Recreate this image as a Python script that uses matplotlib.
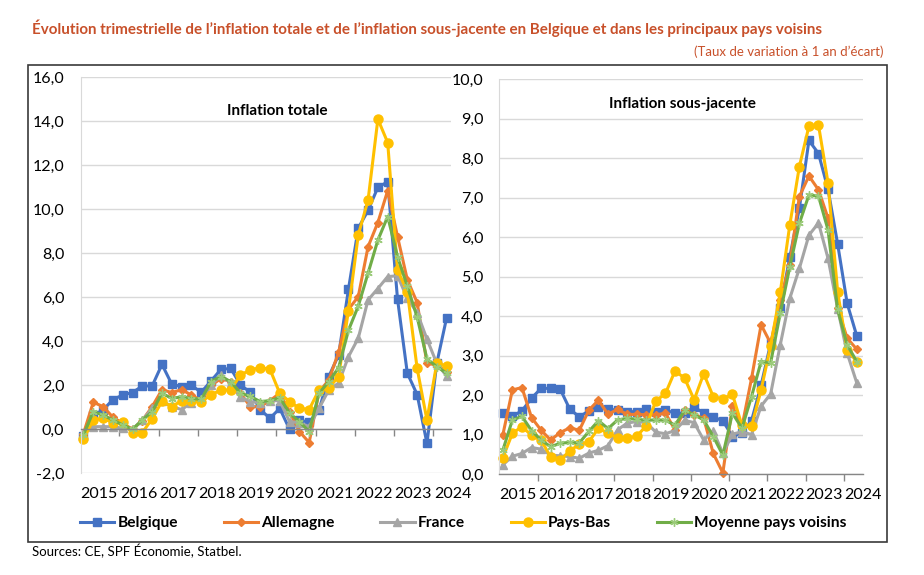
import matplotlib
matplotlib.use("Agg")
import matplotlib.pyplot as plt
from matplotlib.patches import Rectangle
from matplotlib.ticker import FuncFormatter, FixedLocator
import matplotlib.transforms as mtransforms

plt.rcParams['font.family'] = ['Lato', 'DejaVu Sans']

# ---------------- data ----------------
years = ['2015', '2016', '2017', '2018', '2019', '2020', '2021', '2022', '2023', '2024']
series_names = ['Belgique', 'Allemagne', 'France', 'Pays-Bas', 'Moyenne pays voisins']

# Inflation totale (quarterly, 2015Q1 - 2024Q2)
bel_tot = [-0.3, 0.65, 0.88, 1.35, 1.56, 1.67, 1.97, 1.97, 2.95, 2.05, 1.94, 2.0, 1.68, 2.2, 2.72, 2.77,
           2.02, 1.68, 0.9, 0.5, 0.95, 0.0, 0.42, 0.32, 0.88, 2.4, 3.38, 6.36, 9.14, 9.95, 11.0, 11.25,
           5.92, 2.55, 1.58, -0.64, 3.0, 5.06]
deu_tot = [-0.2, 1.23, 1.03, 0.55, 0.27, 0.0, 0.4, 1.03, 1.8, 1.67, 1.8, 1.56, 1.3, 2.0, 2.3, 2.17,
           1.64, 1.03, 1.03, 1.3, 1.64, 0.8, -0.1, -0.6, 1.7, 2.24, 3.5, 5.45, 6.03, 8.3, 9.4, 10.85,
           8.76, 6.8, 5.76, 3.0, 2.92, 2.62]
fra_tot = [-0.2, 0.12, 0.12, 0.12, 0.05, 0.0, 0.42, 0.95, 1.3, 1.03, 0.9, 1.2, 1.4, 2.0, 2.47, 2.1,
           1.45, 1.26, 1.2, 1.3, 1.3, 0.35, 0.3, 0.12, 0.95, 1.79, 2.1, 3.3, 4.14, 5.88, 6.4, 6.94,
           6.98, 5.95, 5.3, 4.1, 3.0, 2.42]
nld_tot = [-0.45, 0.42, 0.5, 0.3, 0.35, -0.18, -0.15, 0.48, 1.27, 1.03, 1.3, 1.3, 1.26, 1.56, 1.79, 1.79,
           2.47, 2.7, 2.8, 2.73, 1.64, 1.26, 0.96, 0.9, 1.79, 1.88, 2.4, 5.4, 8.83, 10.42, 14.1, 13.03,
           7.24, 6.26, 2.77, 0.42, 3.0, 2.88]
avg_tot = [-0.25, 0.8, 0.65, 0.42, 0.2, 0.0, 0.42, 0.8, 1.64, 1.4, 1.48, 1.4, 1.36, 2.17, 2.4, 2.17,
           1.64, 1.5, 1.26, 1.3, 1.44, 0.73, 0.35, -0.1, 1.64, 2.17, 2.8, 4.5, 5.6, 7.1, 8.6, 9.67,
           7.85, 6.5, 5.1, 3.2, 2.85, 2.55]

# Inflation sous-jacente
bel_core = [1.55, 1.47, 1.6, 1.92, 2.17, 2.17, 2.15, 1.64, 1.45, 1.6, 1.7, 1.64, 1.62, 1.58, 1.58, 1.64,
            1.58, 1.62, 1.54, 1.54, 1.7, 1.54, 1.44, 1.35, 0.95, 1.05, 1.35, 2.25, 3.31, 4.2, 5.5, 6.73,
            8.45, 8.12, 7.21, 5.83, 4.32, 3.5]
deu_core = [0.99, 2.13, 2.19, 1.43, 1.11, 0.86, 1.05, 1.17, 1.11, 1.62, 1.87, 1.51, 1.64, 1.51, 1.51, 1.5,
            1.5, 1.54, 1.12, 1.62, 1.5, 1.41, 0.52, 0.03, 1.72, 1.2, 2.42, 3.78, 3.31, 4.41, 5.3, 7.03,
            7.55, 7.2, 6.48, 4.2, 3.44, 3.16]
fra_core = [0.23, 0.45, 0.52, 0.67, 0.63, 0.48, 0.46, 0.44, 0.4, 0.53, 0.6, 0.72, 1.12, 1.29, 1.33, 1.3,
            1.06, 1.02, 1.1, 1.36, 1.3, 0.86, 1.09, 0.52, 1.01, 1.07, 1.0, 1.72, 2.03, 3.27, 4.45, 5.21,
            6.05, 6.36, 5.46, 4.19, 3.06, 2.31]
nld_core = [0.41, 1.03, 1.2, 0.98, 0.86, 0.43, 0.35, 0.59, 0.75, 0.82, 1.16, 1.03, 0.92, 0.9, 0.96, 1.22,
            1.85, 2.04, 2.61, 2.43, 1.88, 2.54, 1.96, 1.9, 2.02, 1.23, 1.21, 2.13, 3.25, 4.6, 6.31, 7.79,
            8.81, 8.84, 7.37, 4.62, 3.14, 2.85]
avg_core = [0.6, 1.37, 1.46, 1.1, 0.86, 0.69, 0.78, 0.8, 0.79, 1.08, 1.35, 1.15, 1.37, 1.41, 1.39, 1.36,
            1.37, 1.36, 1.24, 1.61, 1.5, 1.37, 0.95, 0.48, 1.54, 1.16, 1.96, 2.85, 2.82, 4.07, 5.25, 6.35,
            7.07, 7.04, 6.18, 4.17, 3.27, 2.85]

# ---------------- styles ----------------
styles = [
    dict(color='#4472C4', marker='s', ms=5.5, mfc='#4472C4', mec='#4472C4', mew=1),
    dict(color='#ED7D31', marker='D', ms=4.5, mfc='#ED7D31', mec='#ED7D31', mew=1),
    dict(color='#A5A5A5', marker='^', ms=5.5, mfc='#A5A5A5', mec='#A5A5A5', mew=1),
    dict(color='#FFC000', marker='o', ms=6.5, mfc='#FFC000', mec='#FFC000', mew=1),
    dict(color='#70AD47', marker=(6, 2, 0), ms=6, mfc='#9BCB7A', mec='#9BCB7A', mew=1),
]

W, H = 924, 575
fig = plt.figure(figsize=(W / 100, H / 100), dpi=100)

def px_axes(x0, y0, x1, y1):
    return fig.add_axes([x0 / W, 1 - y1 / H, (x1 - x0) / W, (y1 - y0) / H])

ax1 = px_axes(81, 77.3, 451, 473.3)
ax2 = px_axes(499, 79.3, 862.5, 474)

comma = FuncFormatter(lambda v, p: f"{v:.1f}".replace('.', ','))
xs = list(range(len(bel_tot)))
tick_pos = [4 * k - 1 / 3 for k in range(1, 10)]
lab_pos = [4 * k + 1.6 for k in range(len(years))]

def setup(ax, data, ylim, ystep, xlim, title, tpos, pad):
    lines = []
    for d, st, name in zip(data, styles, series_names):
        ln, = ax.plot(xs, d, lw=2.2, label=name, clip_on=False, **st)
        lines.append(ln)
    ax.set_xlim(*xlim)
    ax.set_ylim(*ylim)
    yt = [ylim[0] + ystep * i for i in range(int(round((ylim[1] - ylim[0]) / ystep)) + 1)]
    ax.set_yticks(yt)
    ax.yaxis.set_major_formatter(comma)
    ax.grid(axis='y', color='#D9D9D9', lw=1)
    ax.set_axisbelow(True)
    for s in ['top', 'right']:
        ax.spines[s].set_visible(False)
    ax.spines['left'].set_color('#D9D9D9')
    ax.spines['bottom'].set_position(('data', 0))
    ax.spines['bottom'].set_color('#868686')
    ax.spines['bottom'].set_linewidth(1)
    ax.xaxis.set_major_locator(FixedLocator(tick_pos))
    ax.tick_params(axis='x', direction='out', length=5, width=1, color='#868686', labelbottom=False)
    ax.tick_params(axis='y', length=0, pad=pad, labelsize=11.5, labelcolor='black')
    trans = mtransforms.blended_transform_factory(ax.transData, ax.transAxes)
    for x, y in zip(lab_pos, years):
        ax.annotate(y, xy=(x, 0), xycoords=trans, xytext=(0, -15), textcoords='offset points',
                    ha='center', va='center', fontsize=11.5, annotation_clip=False)
    ax.text(tpos[0], tpos[1], title, transform=ax.transAxes, ha='center', va='center',
            fontsize=11, fontweight='bold')
    return lines

lines = setup(ax1, [bel_tot, deu_tot, fra_tot, nld_tot, avg_tot], (-2, 16), 2, (-0.25, 37.45),
              'Inflation totale', (0.53, 0.916), 12)
setup(ax2, [bel_core, deu_core, fra_core, nld_core, avg_core], (0, 10), 1, (-0.4, 37.6),
      'Inflation sous-jacente', (0.506, 0.937), 11)

# frame box
fig.patches.append(Rectangle((28 / W, 1 - 542 / H), (887 - 28) / W, (542 - 65) / H,
                             transform=fig.transFigure, fill=False, edgecolor='#3A3A3A', lw=1.2))

title_color = '#C8502A'
fig.text(32 / W, 1 - 28 / H,
         "Évolution trimestrielle de l’inflation totale et de l’inflation sous-jacente en Belgique et dans les principaux pays voisins",
         ha='left', va='center', fontsize=10.9, fontweight='bold', color=title_color)
fig.text(883 / W, 1 - 52 / H, "(Taux de variation à 1 an d’écart)", ha='right', va='center',
         fontsize=9.5, color=title_color)
fig.text(32 / W, 1 - 551 / H, "Sources: CE, SPF Économie, Statbel.", ha='left', va='center',
         fontsize=9.5, color='black')

leg = fig.legend(handles=lines, loc='center left', bbox_to_anchor=(80 / W, 1 - 523 / H), ncol=5,
                 frameon=False, borderpad=0, borderaxespad=0, handlelength=2.2, handletextpad=0.2,
                 columnspacing=2.95, prop={'weight': 'bold', 'size': 11.2})

fig.savefig('out.png', dpi=100)
